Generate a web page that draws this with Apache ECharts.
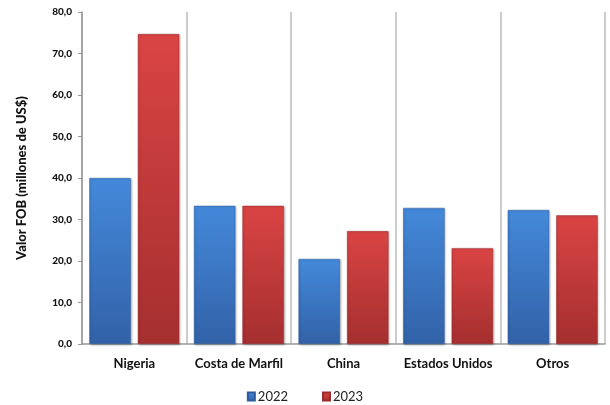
<!DOCTYPE html>
<html><head><meta charset="utf-8">
<script src="https://cdn.jsdelivr.net/npm/echarts@6/dist/echarts.min.js"></script>
<style>html,body{margin:0;padding:0;background:#fff}#c{width:610px;height:405px}</style>
</head><body><div id="c"></div>
<script>
const categories = ['Nigeria', 'Costa de Marfil', 'China', 'Estados Unidos', 'Otros'];
const values2022 = [40.0, 33.3, 20.5, 32.8, 32.3];
const values2023 = [74.7, 33.3, 27.2, 23.1, 31.0];
const yTicks = { min: 0, max: 80, interval: 10 };
const seriesNames = ['2022', '2023'];

const font = 'Lato, "Open Sans", sans-serif';
function grad(top, bottom) {
  return new echarts.graphic.LinearGradient(0, 0, 0, 1, [
    { offset: 0, color: top }, { offset: 1, color: bottom }
  ]);
}
const chart = echarts.init(document.getElementById('c'));
chart.setOption({
  animation: false,
  grid: { left: 82, right: 5, top: 12, bottom: 61 },
  legend: {
    bottom: 2, left: 'center', padding: 0, itemGap: 34, itemWidth: 7, itemHeight: 8, icon: 'rect',
    textStyle: { fontFamily: font, fontSize: 13, color: '#222', padding: [0, 0, 0, -2] },
    data: seriesNames
  },
  xAxis: {
    type: 'category', data: categories,
    axisLine: { lineStyle: { color: '#999', width: 1.5 } },
    axisTick: { show: false },
    splitLine: { show: true, interval: 0, lineStyle: { color: '#bbb', width: 1.5 } },
    axisLabel: { interval: 0, fontFamily: font, fontSize: 13, fontWeight: 'bold', color: '#111', margin: 13 }
  },
  yAxis: {
    type: 'value', min: yTicks.min, max: yTicks.max, interval: yTicks.interval,
    name: 'Valor FOB (millones de US$)', nameLocation: 'middle', nameGap: 54,
    nameTextStyle: { fontFamily: font, fontSize: 13, fontWeight: 900, color: '#111' },
    axisLine: { show: true, lineStyle: { color: '#999', width: 1.5 } },
    axisTick: { show: true, length: 4, lineStyle: { color: '#999' } },
    splitLine: { show: false },
    axisLabel: {
      fontFamily: font, fontSize: 10, fontWeight: 900, color: '#111', margin: 10,
      formatter: v => v.toFixed(1).replace('.', ',')
    }
  },
  series: [
    {
      name: seriesNames[0], type: 'bar', data: values2022,
      barGap: '17%', barCategoryGap: '14%',
      itemStyle: { color: grad('#4489da', '#3262a8'), borderColor: '#2f5c9c', borderWidth: 0.5,
        shadowColor: 'rgba(0,0,0,0.25)', shadowBlur: 2, shadowOffsetX: 1, shadowOffsetY: 1 }
    },
    {
      name: seriesNames[1], type: 'bar', data: values2023,
      itemStyle: { color: grad('#da4444', '#a52f2f'), borderColor: '#9c2c2c', borderWidth: 0.5,
        shadowColor: 'rgba(0,0,0,0.25)', shadowBlur: 2, shadowOffsetX: 1, shadowOffsetY: 1 }
    }
  ]
});
</script></body></html>
